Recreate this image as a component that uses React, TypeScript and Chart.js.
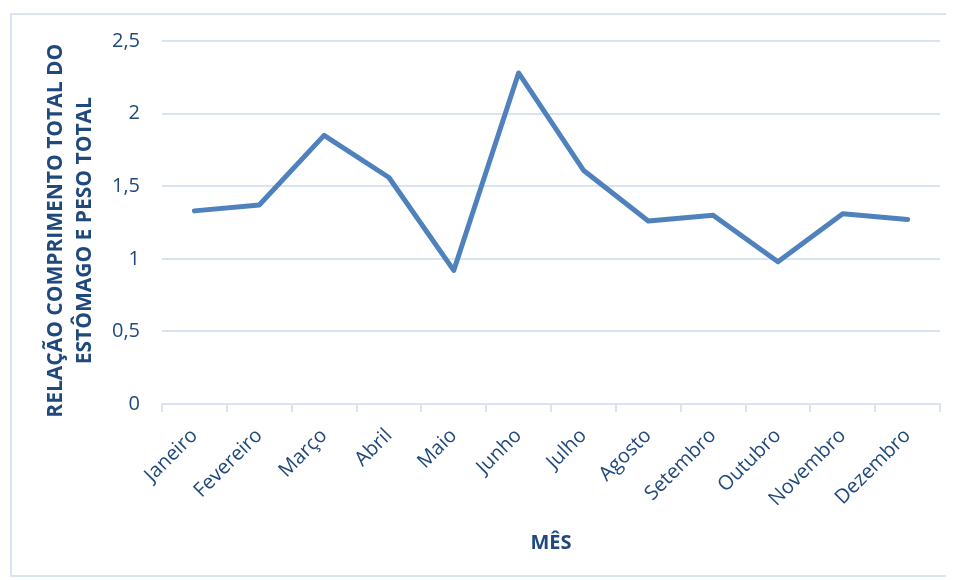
import React, { useEffect, useRef } from "react";
import { Chart, registerables } from "chart.js";

Chart.register(...registerables);

const months = [
  "Janeiro", "Fevereiro", "Março", "Abril", "Maio", "Junho",
  "Julho", "Agosto", "Setembro", "Outubro", "Novembro", "Dezembro",
];
const ratio = [1.33, 1.37, 1.85, 1.56, 0.92, 2.28, 1.61, 1.26, 1.30, 0.98, 1.31, 1.27];
const yTitle = ["RELAÇÃO COMPRIMENTO TOTAL DO   ", "ESTÔMAGO E PESO TOTAL   "];
const xTitle = "MÊS";

const TEXT = "#1F497D";
const GRID = "#D9E3F2";
const FONT = "'Open Sans', 'Liberation Sans', sans-serif";

export default function App() {
  const ref = useRef<HTMLCanvasElement | null>(null);
  useEffect(() => {
    if (!ref.current) return;
    const chart = new Chart(ref.current, {
      type: "line",
      data: {
        labels: months,
        datasets: [
          {
            data: ratio,
            borderColor: "#4F81BD",
            backgroundColor: "#4F81BD",
            borderWidth: 5,
            pointRadius: 0,
            tension: 0,
            borderCapStyle: "round",
            borderJoinStyle: "round",
          },
        ],
      },
      options: {
        animation: false,
        responsive: true,
        maintainAspectRatio: false,
        layout: { padding: { left: 0, top: 26, right: 6, bottom: 0 } },
        plugins: { legend: { display: false }, tooltip: { enabled: false } },
        scales: {
          x: {
            offset: true,
            afterFit: (s: any) => { s.height = 171; },
            grid: {
              offset: true,
              drawOnChartArea: false,
              drawTicks: true,
              tickLength: 8,
              color: GRID,
              lineWidth: 2,
            },
            border: { display: true, color: GRID, width: 2 },
            ticks: {
              autoSkip: false,
              maxRotation: 45,
              minRotation: 45,
              color: TEXT,
              padding: 12,
              font: { family: FONT, size: 20 },
            },
            title: {
              display: true,
              text: xTitle,
              color: TEXT,
              font: { family: FONT, size: 20, weight: "bold", lineHeight: 1.5 },
              padding: { top: 0, bottom: 17 },
            },
          },
          y: {
            min: 0,
            max: 2.5,
            afterFit: (s: any) => {
              s.width = 150;
              s.paddingTop = 10;
              s.paddingBottom = 10;
            },
            grid: { color: GRID, lineWidth: 2, drawTicks: false },
            border: { display: false },
            ticks: {
              stepSize: 0.5,
              color: TEXT,
              padding: 22,
              font: { family: FONT, size: 20 },
              callback: (v: any) => String(v).replace(".", ","),
            },
            title: {
              display: true,
              text: yTitle,
              color: TEXT,
              font: { family: FONT, size: 21, weight: "bold", lineHeight: 1.38 },
              padding: { top: 30, bottom: 0 },
            },
          },
        },
      },
    });
    return () => chart.destroy();
  }, []);

  return (
    <div style={{ paddingTop: 5, paddingLeft: 2 }}>
      <div
        style={{
          width: 934,
          height: 560,
          border: `2px solid ${GRID}`,
          position: "relative",
        }}
      >
        <canvas ref={ref} />
      </div>
    </div>
  );
}
